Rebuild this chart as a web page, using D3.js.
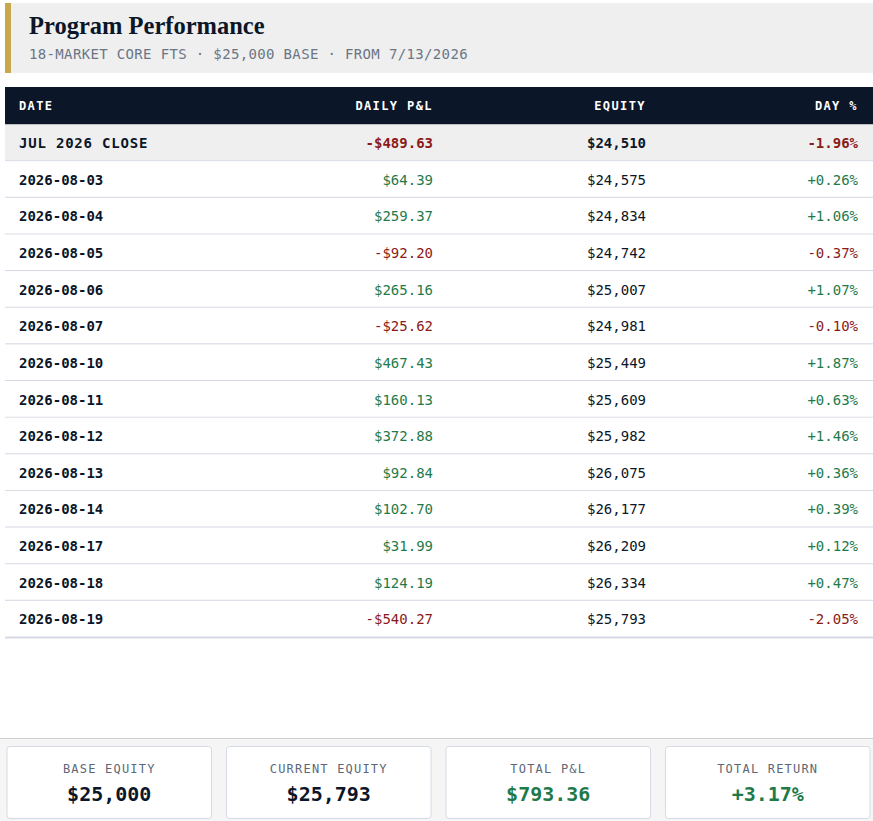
<!DOCTYPE html>
<html>
<head>
<meta charset="utf-8">
<script src="https://cdn.jsdelivr.net/npm/d3@7"></script>
<style>
  body { margin: 0; background: #fff; }
  svg text { font-family: "DejaVu Sans Mono", monospace; }
</style>
</head>
<body>
<svg id="chart" width="873" height="821"></svg>
<script>
const dates = ['JUL 2026 CLOSE', '2026-08-03', '2026-08-04', '2026-08-05', '2026-08-06', '2026-08-07',
  '2026-08-10', '2026-08-11', '2026-08-12', '2026-08-13', '2026-08-14', '2026-08-17', '2026-08-18', '2026-08-19'];
const pnl = [-489.63, 64.39, 259.37, -92.20, 265.16, -25.62, 467.43, 160.13, 372.88, 92.84, 102.70, 31.99, 124.19, -540.27];
const equity = [24510, 24575, 24834, 24742, 25007, 24981, 25449, 25609, 25982, 26075, 26177, 26209, 26334, 25793];
const dayPct = [-1.96, 0.26, 1.06, -0.37, 1.07, -0.10, 1.87, 0.63, 1.46, 0.36, 0.39, 0.12, 0.47, -2.05];
const columns = ['DATE', 'DAILY P&L', 'EQUITY', 'DAY %'];
const cardLabels = ['BASE EQUITY', 'CURRENT EQUITY', 'TOTAL P&L', 'TOTAL RETURN'];
const cardValues = ['$25,000', '$25,793', '$793.36', '+3.17%'];

const green = '#1f7a4a', red = '#8b1a1a', navy = '#0b1628';
const svg = d3.select('#chart');

// title panel
svg.append('rect').attr('x', 5).attr('y', 3).attr('width', 868).attr('height', 70).attr('fill', '#efefef');
svg.append('rect').attr('x', 5).attr('y', 3).attr('width', 6).attr('height', 70).attr('fill', '#c9a74c');
svg.append('text').attr('x', 29).attr('y', 34).text('Program Performance')
  .style('font-family', '"Liberation Serif", "DejaVu Serif", serif').style('font-weight', 'bold')
  .style('font-size', '24.5px').attr('fill', navy);
svg.append('text').attr('x', 29).attr('y', 59).text('18-MARKET CORE FTS · $25,000 BASE · FROM 7/13/2026')
  .style('font-size', '14px').style('letter-spacing', '0.35px').attr('fill', '#6b7585');

// table
const y = d3.scaleBand().domain(d3.range(dates.length)).range([124.5, 637.5]);
const colX = d3.scaleOrdinal().domain(columns).range([19, 433, 646, 858]);
const colAnchor = c => c === 'DATE' ? 'start' : 'end';

svg.append('rect').attr('x', 5).attr('y', 87).attr('width', 868).attr('height', 37.5).attr('fill', navy);
svg.selectAll('.hdr').data(columns).join('text')
  .attr('x', d => colX(d)).attr('y', 110).attr('text-anchor', colAnchor)
  .style('font-size', '12px').style('font-weight', 'bold').style('letter-spacing', '1.4px')
  .attr('fill', '#fff').text(d => d);

const fmtMoney = v => (v < 0 ? '-$' : '$') + Math.abs(v).toFixed(2);
const fmtEq = d3.format('$,.0f');
const fmtPct = v => (v < 0 ? '-' : '+') + Math.abs(v).toFixed(2) + '%';

const rows = svg.selectAll('.row').data(dates).join('g')
  .attr('transform', (d, i) => `translate(0,${y(i)})`);
rows.append('rect').attr('x', 5).attr('width', 868).attr('height', y.bandwidth())
  .attr('fill', (d, i) => i === 0 ? '#efefef' : '#fff');
rows.append('line').attr('x1', 5).attr('x2', 873).attr('y1', y.bandwidth()).attr('y2', y.bandwidth())
  .attr('stroke', '#d6dae4').attr('stroke-width', 2);
const ty = 23.5;
rows.append('text').attr('x', colX('DATE')).attr('y', ty).text(d => d)
  .style('font-size', '14px').style('font-weight', 'bold').attr('fill', navy)
  .style('letter-spacing', (d, i) => i === 0 ? '0.8px' : null);
rows.append('text').attr('x', colX('DAILY P&L')).attr('y', ty).attr('text-anchor', 'end')
  .text((d, i) => fmtMoney(pnl[i])).style('font-size', '14px')
  .style('font-weight', (d, i) => i === 0 ? 'bold' : null)
  .attr('fill', (d, i) => pnl[i] < 0 ? red : green);
rows.append('text').attr('x', colX('EQUITY')).attr('y', ty).attr('text-anchor', 'end')
  .text((d, i) => fmtEq(equity[i])).style('font-size', '14px')
  .style('font-weight', (d, i) => i === 0 ? 'bold' : null).attr('fill', navy);
rows.append('text').attr('x', colX('DAY %')).attr('y', ty).attr('text-anchor', 'end')
  .text((d, i) => fmtPct(dayPct[i])).style('font-size', '14px')
  .style('font-weight', (d, i) => i === 0 ? 'bold' : null)
  .attr('fill', (d, i) => dayPct[i] < 0 ? red : green);

// footer cards
svg.append('rect').attr('x', 0).attr('y', 738).attr('width', 873).attr('height', 83).attr('fill', '#f5f5f5');
svg.append('line').attr('x1', 0).attr('x2', 873).attr('y1', 738.5).attr('y2', 738.5).attr('stroke', '#d0d0d0');
const cx = d3.scaleBand().domain(d3.range(cardLabels.length)).range([7, 885]).paddingInner(0);
const cards = svg.selectAll('.card').data(cardLabels).join('g')
  .attr('transform', (d, i) => `translate(${cx(i)},746.5)`);
cards.append('rect').attr('width', cx.bandwidth() - 15).attr('height', 72).attr('rx', 3)
  .attr('fill', '#fff').attr('stroke', '#d6dae4');
cards.append('text').attr('x', (cx.bandwidth() - 15) / 2).attr('y', 26).attr('text-anchor', 'middle')
  .text(d => d).style('font-size', '12px').style('letter-spacing', '1.2px').attr('fill', '#5d6778');
cards.append('text').attr('x', (cx.bandwidth() - 15) / 2).attr('y', 54).attr('text-anchor', 'middle')
  .text((d, i) => cardValues[i]).style('font-size', '20px').style('font-weight', 'bold')
  .attr('fill', (d, i) => i >= 2 ? green : navy);
</script>
</body>
</html>
